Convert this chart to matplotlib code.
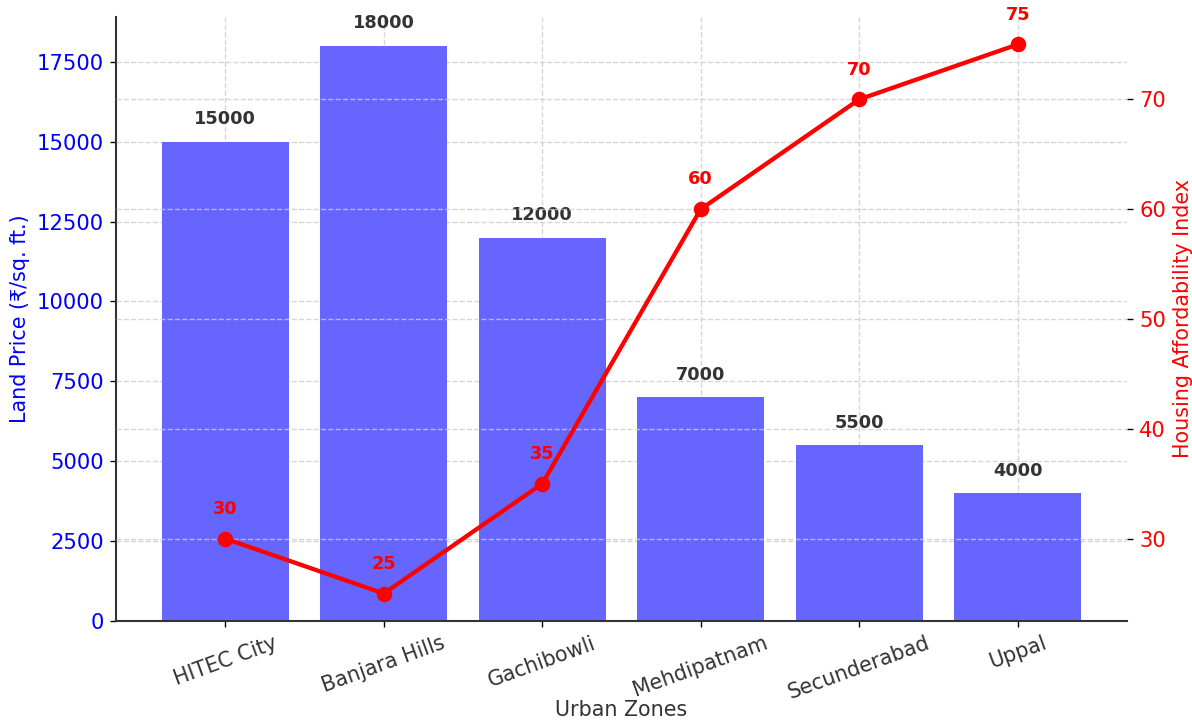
import matplotlib
matplotlib.use('Agg')
import matplotlib.pyplot as plt
import numpy as np

zones = ["HITEC City", "Banjara Hills", "Gachibowli", "Mehdipatnam", "Secunderabad", "Uppal"]
land_price = [15000, 18000, 12000, 7000, 5500, 4000]
afford_idx = [30, 25, 35, 60, 70, 75]

BAR = "#6666ff"
LINE = "red"

DPI = 124
fig = plt.figure(figsize=(1192 / DPI, 724 / DPI), dpi=DPI)
ax1 = fig.add_axes([0.0973, 0.1423, 0.8482, 0.8342])

x = np.arange(len(zones))
ax1.bar(x, land_price, width=0.8, color=BAR, zorder=2)
for xi, v in zip(x, land_price):
    ax1.text(xi, v + 420, str(v), ha='center', va='bottom', fontsize=10.3,
             fontweight='bold', color='#333333', zorder=5)

ax1.set_xticks(x)
ax1.set_xticklabels(zones, rotation=20, fontsize=12, color='#333333')
ax1.set_xlabel("Urban Zones", fontsize=12, color='#333333', labelpad=-2)
ax1.set_ylabel("Land Price (₹/sq. ft.)", fontsize=12, color='blue')
ax1.tick_params(axis='y', labelcolor='blue', labelsize=12.3)
ax1.grid(True, linestyle='--', color='#cccccc', linewidth=0.8, alpha=0.8, zorder=0)
ax1.set_axisbelow(True)
for s in ['top', 'right']:
    ax1.spines[s].set_visible(False)
for s in ['left', 'bottom']:
    ax1.spines[s].set_color('#333333')
    ax1.spines[s].set_linewidth(1.2)

ax2 = ax1.twinx()
ax2.plot(x, afford_idx, color=LINE, marker='o', markersize=8, linewidth=2.5, zorder=3)
for xi, v in zip(x, afford_idx):
    ax2.text(xi, v + 1.9, str(v), ha='center', va='bottom', fontsize=10.3,
             fontweight='bold', color=LINE)
ax2.set_ylabel("Housing Affordability Index", fontsize=12, color=LINE)
ax2.tick_params(axis='y', labelcolor=LINE, labelsize=12.3)
ax2.grid(True, axis='y', linestyle='--', color='#cccccc', linewidth=0.8, alpha=0.8)
for s in ['top', 'right', 'left', 'bottom']:
    ax2.spines[s].set_visible(False)

fig.savefig("out.png", dpi=DPI, facecolor='white')
